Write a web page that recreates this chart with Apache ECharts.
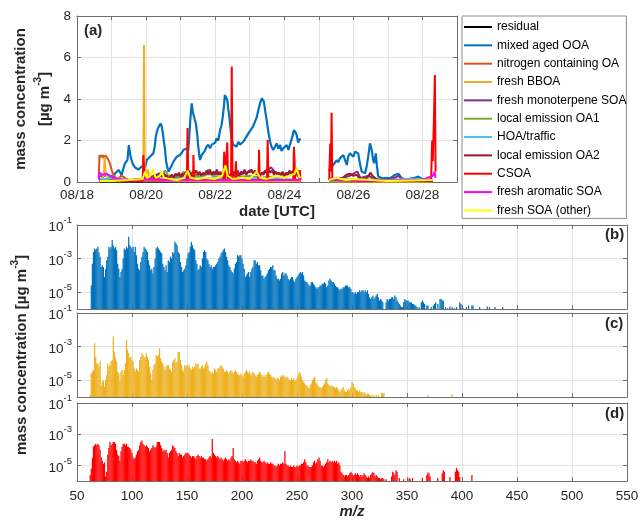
<!DOCTYPE html>
<html><head><meta charset="utf-8">
<script src="https://cdn.jsdelivr.net/npm/echarts@6/dist/echarts.min.js"></script>
<style>html,body{margin:0;padding:0;background:#fff}#c{width:642px;height:520px}</style>
</head><body><div id="c"></div>
<script>
// ---------- Panel (a): time series, x = day of August (UTC), y = µg m-3 ----------
const seriesNames = ['residual','mixed aged OOA','nitrogen containing OA','fresh BBOA','fresh monoterpene SOA','local emission OA1','HOA/traffic','local emission OA2','CSOA','fresh aromatic SOA','fresh SOA (other)'];
const seriesColors = ['#000000','#0072BD','#D95319','#EDB120','#7E2F8E','#77AC30','#4DBEEE','#A2142F','#FF0000','#FF00FF','#FFFF00'];

const residual = [[18.65,0.02],[19.5,0.03],[20.5,0.02],[21.5,0.03],[22.5,0.02],[23.5,0.03],[24.47,0.02],[24.6,null],[25.3,0.02],[26.5,0.03],[27.3,0.06],[27.5,0.1],[27.7,0.08],[27.9,0.05],[28.3,0.02]];
const mixedAgedOOA = [[18.67,0.30],[18.75,0.25],[18.85,0.35],[18.95,0.30],[19.05,0.26],[19.12,0.45],[19.20,0.58],[19.25,0.45],[19.29,0.34],[19.35,0.70],[19.39,0.90],[19.46,1.06],[19.50,1.78],[19.55,1.22],[19.60,0.95],[19.63,0.82],[19.68,0.70],[19.73,0.74],[19.78,0.60],[19.82,0.66],[19.87,0.75],[19.92,0.82],[19.97,0.70],[20.02,1.06],[20.06,1.00],[20.11,1.22],[20.16,1.15],[20.21,1.38],[20.25,1.70],[20.28,2.18],[20.31,2.40],[20.34,2.58],[20.38,2.50],[20.42,2.82],[20.45,2.70],[20.48,2.42],[20.52,1.90],[20.55,1.54],[20.58,1.00],[20.61,0.74],[20.65,0.50],[20.69,0.58],[20.74,0.80],[20.79,0.98],[20.84,1.10],[20.89,1.22],[20.94,1.15],[20.98,1.30],[21.03,1.40],[21.08,1.54],[21.12,1.45],[21.17,1.62],[21.22,1.50],[21.25,2.18],[21.28,3.00],[21.32,3.79],[21.35,3.40],[21.37,3.31],[21.41,3.00],[21.44,2.82],[21.48,2.30],[21.51,1.70],[21.54,1.30],[21.56,1.06],[21.61,1.30],[21.66,1.22],[21.70,1.50],[21.75,1.70],[21.80,1.80],[21.85,1.62],[21.90,1.80],[21.95,1.86],[22.00,1.90],[22.04,2.10],[22.09,2.00],[22.14,2.50],[22.18,2.70],[22.22,3.15],[22.25,3.60],[22.28,4.19],[22.31,4.10],[22.35,3.95],[22.38,3.50],[22.41,3.15],[22.45,2.50],[22.48,2.02],[22.52,1.80],[22.57,1.86],[22.62,1.70],[22.67,1.94],[22.72,1.80],[22.77,1.78],[22.82,1.95],[22.86,2.02],[22.91,2.20],[22.96,2.34],[23.01,2.40],[23.06,2.58],[23.10,2.70],[23.15,2.90],[23.20,3.10],[23.25,3.47],[23.30,3.80],[23.35,4.03],[23.38,3.95],[23.41,3.87],[23.45,3.40],[23.49,2.98],[23.54,2.40],[23.59,1.94],[23.63,1.70],[23.68,1.54],[23.73,1.70],[23.78,1.86],[23.83,1.60],[23.88,1.78],[23.92,1.50],[23.97,1.62],[24.02,1.70],[24.07,1.78],[24.12,1.55],[24.16,1.62],[24.22,2.10],[24.28,2.50],[24.32,2.40],[24.36,2.26],[24.40,1.90],[24.43,2.02],[24.47,2.10],[24.60,null],[25.30,0.50],[25.32,0.66],[25.37,0.60],[25.42,0.82],[25.47,0.90],[25.52,1.06],[25.56,0.95],[25.61,1.14],[25.66,1.20],[25.71,1.30],[25.76,1.05],[25.81,0.82],[25.85,1.22],[25.90,1.38],[25.95,1.30],[26.00,1.22],[26.05,1.46],[26.10,1.40],[26.14,1.38],[26.19,0.90],[26.24,0.50],[26.29,0.45],[26.34,0.42],[26.39,0.80],[26.43,1.22],[26.48,1.86],[26.51,1.70],[26.53,1.54],[26.57,1.10],[26.60,0.90],[26.65,1.38],[26.68,0.80],[26.72,0.26],[26.80,0.20],[26.87,0.18],[26.95,0.20],[27.06,0.18],[27.13,0.25],[27.20,0.34],[27.30,0.40],[27.35,0.30],[27.40,0.18],[27.47,0.15],[27.54,0.13],[27.62,0.15],[27.69,0.18],[27.78,0.20],[27.88,0.26],[27.95,0.18],[28.02,0.13],[28.10,0.12],[28.20,0.10],[28.27,0.15]];
const nitrogenOA = [[18.63,0.2],[18.65,1.3],[18.7,1.2],[18.74,1.3],[18.78,1.15],[18.82,1.28],[18.86,1.25],[18.9,1.1],[18.95,0.9],[19.0,0.6],[19.04,0.4],[19.08,0.3],[19.12,0.2],[19.2,0.15],[19.28,0.3],[19.35,0.25],[19.42,0.15],[19.5,0.1],[19.6,0.05],[20.5,0.05],[21.5,0.04],[22.5,0.03],[23.5,0.03],[24.47,0.04],[24.6,null],[25.3,0.03],[26.5,0.03],[28.3,0.03]];
const freshBBOA = [[18.63,0.1],[18.72,0.2],[18.78,0.3],[18.8,1.2],[18.83,0.4],[18.9,0.2],[19.0,0.1],[19.5,0.08],[19.9,0.15],[19.92,0.3],[19.94,6.6],[19.96,0.6],[20.0,0.3],[20.05,0.6],[20.1,0.2],[20.3,0.1],[21.0,0.05],[22.0,0.04],[23.0,0.04],[24.47,0.04],[24.6,null],[25.3,0.03],[28.3,0.03]];
const monoterpeneSOA = [[18.65,0.05],[19.5,0.1],[20.0,0.15],[20.3,0.35],[20.45,0.45],[20.6,0.3],[20.9,0.2],[21.3,0.3],[21.6,0.35],[22.0,0.4],[22.3,0.35],[22.6,0.3],[22.9,0.45],[23.05,0.5],[23.3,0.35],[23.55,0.65],[23.62,0.7],[23.75,0.45],[24.0,0.35],[24.2,0.45],[24.32,0.6],[24.4,0.55],[24.47,0.4],[24.6,null],[25.3,0.1],[25.6,0.15],[25.9,0.3],[26.05,0.45],[26.12,0.5],[26.2,0.2],[26.45,0.3],[26.6,0.15],[26.9,0.1],[27.2,0.2],[27.3,0.3],[27.4,0.15],[27.8,0.1],[28.3,0.1]];
const localOA1 = [[18.65,0.05],[19.9,0.1],[20.45,0.3],[20.55,0.55],[20.65,0.3],[21.0,0.3],[21.08,0.5],[21.15,0.25],[21.7,0.3],[21.8,0.6],[21.9,0.3],[22.4,0.2],[23.0,0.3],[23.3,0.2],[24.0,0.3],[24.25,0.45],[24.47,0.2],[24.6,null],[25.3,0.05],[28.3,0.05]];
const hoaTraffic = [[18.65,0.1],[19.0,0.2],[19.5,0.1],[20.5,0.15],[21.5,0.2],[22.5,0.15],[23.5,0.2],[24.47,0.1],[24.6,null],[25.3,0.1],[26.0,0.15],[27.0,0.1],[27.6,0.15],[28.3,0.1]];
const localOA2 = [[18.65,0.05],[19.0,0.06],[19.3,0.05],[19.6,0.1],[19.9,0.15],[20.1,0.2],[20.2,0.15],[20.3,0.3],[20.35,0.2],[20.4,0.35],[20.45,0.25],[20.5,0.4],[20.55,0.2],[20.6,0.3],[20.65,0.15],[20.7,0.25],[20.75,0.35],[20.8,0.2],[20.85,0.4],[20.9,0.3],[20.95,0.45],[21.0,0.25],[21.05,0.4],[21.1,0.3],[21.15,0.5],[21.2,0.35],[21.25,0.55],[21.3,0.3],[21.35,0.5],[21.4,0.4],[21.45,0.55],[21.5,0.35],[21.55,0.5],[21.6,0.3],[21.65,0.45],[21.7,0.35],[21.75,0.55],[21.8,0.4],[21.85,0.6],[21.9,0.35],[21.95,0.5],[22.0,0.4],[22.05,0.6],[22.1,0.35],[22.15,0.5],[22.2,0.3],[22.25,0.45],[22.3,0.3],[22.35,0.5],[22.4,0.25],[22.45,0.4],[22.5,0.3],[22.55,0.5],[22.6,0.35],[22.65,0.55],[22.7,0.3],[22.75,0.5],[22.8,0.4],[22.85,0.6],[22.9,0.35],[22.95,0.5],[23.0,0.45],[23.05,0.6],[23.1,0.4],[23.15,0.55],[23.2,0.35],[23.25,0.5],[23.3,0.3],[23.35,0.45],[23.4,0.35],[23.45,0.55],[23.5,0.4],[23.55,0.6],[23.6,0.45],[23.65,0.55],[23.7,0.35],[23.75,0.5],[23.8,0.3],[23.85,0.45],[23.9,0.35],[23.95,0.5],[24.0,0.3],[24.05,0.45],[24.1,0.35],[24.15,0.55],[24.2,0.4],[24.25,0.5],[24.3,0.35],[24.35,0.45],[24.4,0.3],[24.47,0.35],[24.6,null],[25.3,0.1],[25.5,0.15],[25.7,0.2],[25.8,0.35],[25.9,0.4],[26.0,0.3],[26.1,0.35],[26.2,0.1],[26.4,0.2],[26.5,0.45],[26.55,0.3],[26.7,0.1],[27.0,0.05],[27.5,0.05],[28.3,0.05]];
const csoa = [[18.65,0.05],[19.9,0.05],[19.92,1.3],[19.96,0.2],[20.5,0.1],[21.18,0.1],[21.2,2.6],[21.22,0.2],[21.36,0.1],[21.37,1.3],[21.39,0.1],[22.24,0.1],[22.26,1.46],[22.28,0.1],[22.33,0.1],[22.35,1.9],[22.37,0.2],[22.46,0.1],[22.48,5.56],[22.5,0.2],[22.58,0.1],[22.6,1.0],[22.62,0.1],[23.25,0.1],[23.27,1.54],[23.29,0.1],[23.5,0.1],[23.52,2.02],[23.54,0.1],[24.26,0.1],[24.28,1.7],[24.3,0.9],[24.32,0.1],[24.44,0.1],[24.45,0.58],[24.47,0.1],[24.6,null],[25.3,0.1],[25.33,1.86],[25.35,0.5],[25.37,3.34],[25.39,0.2],[25.5,0.1],[26.5,0.05],[28.25,0.1],[28.28,2.0],[28.3,1.0],[28.33,2.9],[28.36,5.16],[28.38,0.5]];
const aromaticSOA = [[18.63,0.1],[18.65,0.45],[18.75,0.35],[18.85,0.4],[18.95,0.3],[19.05,0.2],[19.2,0.15],[19.4,0.1],[19.7,0.1],[20.0,0.15],[20.5,0.08],[21.0,0.1],[21.5,0.08],[22.0,0.1],[22.5,0.08],[23.0,0.1],[23.5,0.08],[24.0,0.1],[24.47,0.1],[24.6,null],[25.3,0.2],[25.5,0.1],[26.0,0.1],[27.0,0.05],[28.0,0.1],[28.3,0.3],[28.35,0.5],[28.38,0.2]];
const otherSOA = [[18.65,0.05],[19.0,0.05],[19.5,0.1],[19.9,0.15],[19.97,0.5],[20.02,0.2],[20.1,0.25],[20.2,0.6],[20.28,0.2],[20.4,0.3],[20.45,0.5],[20.52,0.2],[20.7,0.15],[20.9,0.1],[21.1,0.2],[21.2,0.55],[21.28,0.2],[21.5,0.15],[21.7,0.2],[22.0,0.15],[22.2,0.3],[22.3,0.8],[22.36,0.3],[22.5,0.15],[22.8,0.2],[23.0,0.15],[23.2,0.5],[23.3,0.2],[23.5,0.15],[23.8,0.3],[24.0,0.2],[24.3,0.4],[24.36,0.7],[24.42,0.3],[24.47,0.2],[24.6,null],[25.3,0.1],[25.5,0.2],[25.8,0.1],[26.0,0.15],[26.5,0.1],[27.0,0.05],[28.3,0.1]];
const timeSeries = [residual, mixedAgedOOA, nitrogenOA, freshBBOA, monoterpeneSOA, localOA1, hoaTraffic, localOA2, csoa, aromaticSOA, otherSOA];

// ---------- Panels (b)-(d): mass spectra, first m/z = 62, one value per integer m/z ----------
const mzStart = 62;
const spectrumOOA = [
null,2.5e-5,5e-4,2.5e-3,4e-3,3.2e-3,4e-3,5e-3,2.5e-3,1.3e-3,
3.2e-4,4e-4,3.2e-4,8e-5,2.5e-4,8e-4,1.3e-3,5e-3,4e-3,5e-3,
1.3e-2,6.3e-3,4e-3,5e-3,3.2e-3,5e-4,2.5e-4,8e-5,1.6e-4,2.5e-4,
1e-3,4e-3,3.2e-3,5e-3,4e-3,2e-2,6.3e-3,5e-3,4e-3,5e-3,
2.5e-3,5e-3,1.6e-3,5e-4,2.5e-4,2e-4,6.3e-4,1.3e-3,2.5e-3,5e-3,
4e-3,3.2e-3,2.5e-3,8e-4,4e-4,2e-4,2.5e-4,1.3e-4,3.2e-4,1e-3,
4e-3,5e-3,4e-3,3.2e-3,2.5e-3,2e-3,5e-4,3.2e-4,2e-4,4e-4,
1.6e-4,8e-4,6.3e-4,1.3e-3,1e-3,2.5e-3,2e-3,1e-2,8e-3,6.3e-3,
2.5e-3,2e-3,6.3e-4,3.2e-4,1.6e-4,2e-4,2.5e-4,4e-4,1e-3,2e-3,
2.5e-3,5e-3,1e-2,6.3e-3,4e-3,3.2e-3,8e-4,5e-4,2e-4,2.5e-4,
4e-4,3.2e-4,1e-3,2.5e-3,3.2e-3,2.5e-3,1e-3,8e-4,5e-4,3.2e-4,
4e-4,2.5e-4,3.2e-4,3.2e-4,4e-4,5e-4,6.3e-4,1e-3,1.3e-3,2e-3,
2.5e-3,3.2e-3,4e-3,2.5e-3,1.3e-3,8e-4,4e-4,3.2e-4,2e-4,1.6e-4,
1.3e-4,2.5e-4,5e-4,6.3e-4,1.6e-3,1.3e-3,1.6e-3,1.6e-3,1e-3,5e-4,
2.5e-4,8e-5,1e-4,1.3e-4,1.6e-4,8e-5,1.6e-4,2.5e-4,3.2e-4,8e-4,
8e-4,5e-4,6.3e-4,4e-4,4e-4,2e-4,1e-4,1e-4,6.3e-5,8e-5,
1e-4,1.3e-4,2e-4,2.5e-4,3.2e-4,3.2e-4,4e-4,2e-4,2e-4,1e-4,
6.3e-5,6.3e-5,5e-5,6.3e-5,1.3e-4,1.6e-4,1e-4,1.3e-4,1.3e-4,1e-4,
6.3e-5,5e-5,6.3e-5,8e-5,8e-5,5e-5,4e-5,6.3e-5,8e-5,1e-4,
1.3e-4,1.6e-4,1.3e-4,1.6e-4,1e-4,5e-5,4e-5,4e-5,3.2e-5,2.5e-5,
2.5e-5,4e-5,4e-5,3.2e-5,2.5e-5,2e-5,1.6e-5,2e-5,2e-5,2.5e-5,
2.5e-5,3.2e-5,3.2e-5,4e-5,3.2e-5,2e-5,2.5e-5,5e-5,6.3e-5,5e-5,
4e-5,4e-5,3.2e-5,2.5e-5,2e-5,2e-5,1.6e-5,1.3e-5,1.6e-5,1.6e-5,
2e-5,2e-5,2.5e-5,2.5e-5,2.5e-5,2e-5,2e-5,1.6e-5,1e-5,1e-5,
8e-6,1e-5,8e-6,1e-5,1e-5,1.3e-5,1e-5,1.3e-5,1.3e-5,1e-5,
1.3e-5,1e-5,1.3e-5,8e-6,5e-6,4e-6,5e-6,6.3e-6,4e-6,5e-6,
6.3e-6,8e-6,5e-6,3.2e-6,4e-6,3.2e-6,2.5e-6,null,null,2.5e-6,
4e-6,3.2e-6,4e-6,4e-6,5e-6,5e-6,4e-6,6.3e-6,5e-6,3.2e-6,
2.5e-6,2e-6,1.6e-6,1.3e-6,1.3e-6,2.5e-6,4e-6,3.2e-6,3.2e-6,3.2e-6,
2.5e-6,2.5e-6,2.5e-6,2e-6,2e-6,1.6e-6,1.6e-6,1.3e-6,null,1.3e-6,
null,2.5e-6,3.2e-6,2.5e-6,2e-6,null,1.6e-6,1.6e-6,null,null,
1.3e-6,null,1.6e-6,2e-6,2.5e-6,null,2e-6,null,4e-6,4e-6,
3.2e-6,3.2e-6,null,1.3e-6,null,1.1e-6,null,1.4e-6,null,1.3e-6,
null,1.1e-6,null,1.3e-6,null,null,2.5e-6,2e-6,null,1.1e-6,
null,null,1.3e-6,null,1.6e-6,null,null,1.6e-6,1.6e-6,null,
null,null,null,null,1.3e-6,null,null,null,null,null,
null,1.4e-6,null,1.3e-6,null,null,null,null,1.3e-6,null,
null,null,null,null,null,1.3e-6];
const spectrumBBOA = [
1.3e-6,2.5e-5,3.2e-5,4e-5,1.6e-3,2.5e-4,1e-4,1e-4,6.3e-5,1.3e-4,
5e-6,8e-6,1e-5,4e-6,1e-5,2e-5,1e-4,6.3e-5,8e-5,1.3e-4,
1.6e-4,4e-3,5e-4,2e-4,1.3e-4,3.2e-5,2.5e-5,8e-6,3.2e-5,4e-5,
2e-5,4e-5,1e-4,2.5e-3,6.3e-4,4e-4,2e-4,2.5e-4,1.6e-4,1.3e-4,
5e-5,3.2e-5,5e-5,4e-5,3.2e-5,1.6e-4,2.5e-4,4e-4,3.2e-4,2e-4,
2.5e-4,4e-4,2.5e-4,1.6e-4,6.3e-5,2.5e-5,1e-5,4e-5,8e-5,1e-4,
3.2e-4,2.5e-4,3.2e-4,8e-4,2e-4,1.3e-4,1e-4,6.3e-5,4e-5,6.3e-5,
8e-5,8e-5,5e-5,4e-5,3.2e-5,1.3e-4,1.6e-4,2e-4,1e-4,1.3e-4,
5e-4,5e-4,1.6e-4,8e-5,4e-5,3.2e-5,8e-5,6.3e-5,8e-5,6.3e-5,
8e-5,5e-5,4e-5,6.3e-5,5e-5,6.3e-5,1e-4,8e-5,1e-4,5e-5,
5e-5,6.3e-5,8e-5,5e-5,6.3e-5,1e-4,1.3e-4,8e-5,4e-5,3.2e-5,
2.5e-5,3.2e-5,2.5e-5,5e-5,4e-5,3.2e-5,5e-5,5e-5,6.3e-5,8e-5,
6.3e-5,5e-5,3.2e-5,3.2e-5,4e-5,3.2e-5,2.5e-5,3.2e-5,4e-5,3.2e-5,
2.5e-5,3.2e-5,4e-5,3.2e-5,2.5e-5,2e-5,2e-5,2.5e-5,2e-5,1.6e-5,
2.5e-5,3.2e-5,4e-5,3.2e-5,2.5e-5,3.2e-5,2e-5,2.5e-5,3.2e-5,2.5e-5,
2e-5,1.6e-5,2e-5,2.5e-5,3.2e-5,2.5e-5,2e-5,1.6e-5,2e-5,1.6e-5,
2e-5,2.5e-5,3.2e-5,2.5e-5,2e-5,1.6e-5,1.3e-5,1.6e-5,1.3e-5,1e-5,
1.3e-5,1.3e-5,1e-5,1.6e-5,2e-5,1.6e-5,2e-5,1.6e-5,1.3e-5,1.6e-5,
1.3e-5,1e-5,1e-5,1.3e-5,1e-5,1.3e-5,1e-5,1e-5,1.3e-5,2e-5,
3.2e-5,2.5e-5,1.6e-5,1e-5,8e-6,6.3e-6,5e-6,5e-6,4e-6,3.2e-6,
5e-6,6.3e-6,1e-5,1.3e-5,1.6e-5,8e-6,6.3e-6,5e-6,4e-6,4e-6,
3.2e-6,4e-6,5e-6,6.3e-6,1e-5,1.3e-5,6.3e-6,5e-6,5e-6,4e-6,
5e-6,4e-6,4e-6,3.2e-6,4e-6,3.2e-6,2.5e-6,2e-6,2.5e-6,3.2e-6,
4e-6,2.5e-6,2e-6,2e-6,2.5e-6,3.2e-6,2.5e-6,4e-6,8e-6,6.3e-6,
4e-6,3.2e-6,2.5e-6,2.5e-6,2e-6,2.5e-6,2e-6,2e-6,1.6e-6,2e-6,
1.6e-6,1.3e-6,1.6e-6,1.6e-6,1.3e-6,1.3e-6,null,1.3e-6,1.1e-6,null,
1.3e-6,null,1.3e-6,null,null,1.8e-6,1.6e-6,1.8e-6,null,null,
null,null,null,null,null,null,null,null,null,null,
null,null,null,null,null,null,null,null,null,null,
null,null,null,null,null,null,null,null,null,null,
null,null,null,null,null,null,null,1.3e-6,null,null,
null,null,null,null,null,null,null,null,null,null,
null,null,null,null,null,null,null,null,null,1.4e-6];
const spectrumCSOA = [
2.5e-6,6.3e-6,3.2e-5,1.6e-4,2e-4,2.5e-4,2e-4,2.5e-4,2e-4,1e-4,
3.2e-5,2e-5,1.3e-5,1.6e-5,2e-6,4e-6,5e-5,1.3e-4,3.2e-4,2e-4,
2.5e-4,3.2e-4,3.2e-4,2.5e-4,1e-4,5e-5,4e-5,2e-5,8e-5,1.6e-4,
2.5e-4,2.5e-4,2e-4,2.5e-4,1.6e-4,1.6e-4,1.3e-4,1e-4,6.3e-5,3.2e-5,
2.5e-5,3.2e-5,5e-5,8e-5,1e-4,2e-4,3.2e-4,4e-4,2.5e-4,2e-4,
1.6e-4,2e-4,1.6e-4,1.3e-4,8e-5,1e-4,1.3e-4,2e-4,1.6e-4,1.3e-4,
1.6e-4,3.2e-4,3.2e-4,3.2e-4,2e-4,1.3e-4,8e-5,1e-4,8e-5,1e-4,
6.3e-5,3.2e-5,6.3e-5,8e-5,1e-4,2e-4,1.6e-4,1.3e-4,8e-5,6.3e-5,
4e-5,6.3e-5,5e-5,5e-5,3.2e-5,4e-5,5e-5,6.3e-5,6.3e-5,6.3e-5,
5e-5,4e-5,3.2e-5,4e-5,4e-5,3.2e-5,2.5e-5,4e-5,5e-5,4e-5,
3.2e-5,4e-5,3.2e-5,3.2e-5,2.5e-5,2.5e-5,2e-5,2.5e-5,3.2e-5,4e-5,
3.2e-5,5e-4,6.3e-5,5e-5,4e-5,3.2e-5,4e-5,3.2e-5,2.5e-5,3.2e-5,
2.5e-5,2e-5,2.5e-5,3.2e-5,2.5e-5,2e-5,2.5e-5,2e-5,3.2e-5,4e-5,
1.3e-4,2.5e-5,2e-5,1.6e-5,2e-5,1.6e-5,1.3e-5,2e-5,2e-5,1.6e-5,
2e-5,2.5e-5,2e-5,1.6e-5,2e-5,2e-5,2.5e-5,2e-5,2e-5,1.6e-5,
1.6e-5,1.3e-5,2e-5,2.5e-5,3.2e-5,2e-5,1.6e-5,1.6e-5,2e-5,1.6e-5,
1.3e-5,1.6e-5,1.3e-5,1.3e-5,1.6e-5,1.3e-5,1.3e-5,1e-5,1e-5,8e-6,
1e-5,1.3e-5,1e-5,1.3e-5,1.3e-5,1.6e-5,1.3e-5,8e-5,1.3e-5,1e-5,
1e-5,8e-6,1e-5,8e-6,8e-6,1e-5,8e-6,8e-6,1e-5,8e-6,
1e-5,1e-5,1.3e-5,1.3e-5,1.6e-5,2.5e-5,1.6e-5,1e-5,1e-5,8e-6,
8e-6,8e-6,1e-5,1.6e-5,2e-5,1.3e-5,1.6e-5,2.5e-5,3.2e-5,2e-5,
1e-5,1e-5,8e-6,1e-5,1.3e-5,1.6e-5,2.5e-5,1.6e-5,2e-5,1.6e-5,
2e-5,1.6e-5,2e-5,1.6e-5,2e-5,1.3e-5,1.6e-5,1e-5,4e-6,3.2e-6,
2.5e-6,2e-6,2.5e-6,2.5e-6,2e-6,2.5e-6,3.2e-6,4e-6,3.2e-6,2.5e-6,
2.5e-6,3.2e-6,2.5e-6,3.2e-6,2.5e-6,2e-6,2.5e-6,2e-6,2.5e-6,3.2e-6,
2.5e-6,2e-6,1.6e-6,2e-6,1.6e-6,2.5e-6,3.2e-6,4e-6,3.2e-6,2e-6,
2.5e-6,2e-6,1.6e-6,1.6e-6,1.3e-6,1.6e-6,1.6e-6,1.3e-6,null,1.3e-6,
null,null,null,null,2e-6,4e-6,3.2e-6,2.5e-6,5e-6,4e-6,
null,1.6e-6,null,null,null,1.3e-6,null,null,null,null,
1.6e-6,1.3e-6,null,1.6e-6,null,null,null,null,null,null,
null,null,1.6e-6,null,null,null,2.5e-6,3.5e-6,3.2e-6,2e-6,
null,null,null,null,null,null,1.6e-6,null,null,null,
3.2e-6,5e-6,4e-6,null,null,null,null,1.8e-6,null,null,
null,null,4e-6,7e-6,5e-6,4e-6,1.8e-6,null,null,null,
null,null,null,null,null,null,null,2.5e-6];
const spectra = [spectrumOOA, spectrumBBOA, spectrumCSOA];
const spectrumColors = ['#0072BD','#EDB120','#FF0000'];
const panelLabels = ['(a)','(b)','(c)','(d)'];
const logLabelValues = [1e-5, 1e-3, 1e-1];
const logTickValues = [1e-5, 1e-3];

// ---------- styling ----------
const FONT = 'Liberation Sans, Arial, Helvetica, sans-serif';
const AX = '#6e6e6e', TXT = '#262626', GRIDC = '#e3e3e3';

function toPairs(arr){ const out=[]; arr.forEach((v,i)=>{ if(v!==null) out.push([mzStart+i, v]); }); return out; }
function logFmt(v){ const e = Math.round(Math.log10(v)); return '{b|10}{s|' + e + '}'; }
const logRich = { b:{fontSize:13.5, color:TXT, fontFamily:FONT, padding:[5,0,0,0]}, s:{fontSize:9.5, color:TXT, fontFamily:FONT, verticalAlign:'top'} };
const axLine = {show:true, onZero:false, lineStyle:{color:AX, width:1}};

const grids = [
  {left:77, top:16, width:380, height:166},
  {left:77, top:225, width:550, height:84},
  {left:77, top:313, width:550, height:84},
  {left:77, top:403, width:550, height:84}
];

const xAxes = [
  {gridIndex:0, type:'value', min:18, max:29, interval:1, position:'bottom', axisLine:axLine,
   axisTick:{inside:true, length:4, lineStyle:{color:AX}}, splitLine:{show:true, lineStyle:{color:GRIDC}},
   axisLabel:{formatter:v => (v % 2 === 0 ? '08/' + v : ''), fontSize:13.5, color:TXT, margin:6, fontFamily:FONT},
   name:'date [UTC]', nameLocation:'middle', nameGap:22,
   nameTextStyle:{fontWeight:'bold', fontSize:15, color:TXT, fontFamily:FONT, padding:[0,0,0,20]}},
  {gridIndex:0, type:'value', min:18, max:29, interval:1, position:'top', axisLine:axLine,
   axisTick:{inside:true, length:4, lineStyle:{color:AX}}, splitLine:{show:false}, axisLabel:{show:false}}
];
const yAxes = [
  {gridIndex:0, type:'value', min:0, max:8, interval:2, position:'left', axisLine:axLine,
   axisTick:{inside:true, length:4, lineStyle:{color:AX}}, splitLine:{show:true, lineStyle:{color:GRIDC}},
   axisLabel:{fontSize:13.5, color:TXT, margin:6, fontFamily:FONT},
   name:'{t|mass concentration}\n{t|[µg m}{s|-3}{t|]}', nameLocation:'middle', nameRotate:90, nameGap:16,
   nameTextStyle:{rich:{t:{fontSize:15, fontWeight:'bold', color:TXT, fontFamily:FONT, lineHeight:24},
                        s:{fontSize:10, fontWeight:'bold', color:TXT, fontFamily:FONT, verticalAlign:'top', lineHeight:12}}}},
  {gridIndex:0, type:'value', min:0, max:8, interval:2, position:'right', axisLine:axLine,
   axisTick:{inside:true, length:4, lineStyle:{color:AX}}, splitLine:{show:false}, axisLabel:{show:false}}
];
for (let p = 1; p <= 3; p++) {
  xAxes.push({gridIndex:p, type:'value', min:50, max:550, interval:50, position:'bottom', axisLine:axLine,
    axisTick:{inside:true, length:4, lineStyle:{color:AX}}, splitLine:{show:true, lineStyle:{color:GRIDC}},
    axisLabel:{show:p === 3, fontSize:13.5, color:TXT, margin:8, fontFamily:FONT},
    name: p === 3 ? 'm/z' : '', nameLocation:'middle', nameGap:16,
    nameTextStyle:{fontWeight:'bold', fontStyle:'italic', fontSize:15, color:TXT, fontFamily:FONT}});
  xAxes.push({gridIndex:p, type:'value', min:50, max:550, interval:50, position:'top', axisLine:axLine,
    axisTick:{inside:true, length:4, lineStyle:{color:AX}}, splitLine:{show:false}, axisLabel:{show:false}});
  const left = {gridIndex:p, type:'log', logBase:10, min:1e-6, max:1e-1, startValue:1e-6, position:'left', axisLine:axLine,
    axisTick:{inside:true, length:4, customValues:logTickValues, lineStyle:{color:AX}},
    splitLine:{show:true, lineStyle:{color:GRIDC}},
    axisLabel:{customValues:logLabelValues, formatter:logFmt, rich:logRich, margin:5}};
  if (p === 2) {
    left.name = '{t|mass concentration [µg m}{s|-3}{t|]}';
    left.nameLocation = 'middle'; left.nameRotate = 90; left.nameGap = 43;
    left.nameTextStyle = {rich:{t:{fontSize:15, fontWeight:'bold', color:TXT, fontFamily:FONT, lineHeight:24},
                                s:{fontSize:10, fontWeight:'bold', color:TXT, fontFamily:FONT, verticalAlign:'top', lineHeight:12}}};
  }
  yAxes.push(left);
  yAxes.push({gridIndex:p, type:'log', logBase:10, min:1e-6, max:1e-1, position:'right', axisLine:axLine,
    axisTick:{inside:true, length:4, customValues:logTickValues, lineStyle:{color:AX}}, splitLine:{show:false}, axisLabel:{show:false}});
}

const series = [];
timeSeries.forEach((d, i) => {
  series.push({type:'line', name:seriesNames[i], data:d, xAxisIndex:0, yAxisIndex:0, symbol:'none', showSymbol:false,
    connectNulls:false, lineStyle:{color:seriesColors[i], width: i === 1 ? 2.2 : 2}, itemStyle:{color:seriesColors[i]},
    animation:false, silent:true});
});
spectra.forEach((arr, k) => {
  series.push({type:'bar', name:'spectrum' + k, data:toPairs(arr), xAxisIndex:2 + 2*k, yAxisIndex:2 + 2*k,
    barWidth:1.25, itemStyle:{color:spectrumColors[k]}, animation:false, silent:true});
});

const graphics = [
  {type:'text', left:84, top:23, style:{text:panelLabels[0], font:'bold 15px ' + FONT, fill:TXT}},
  {type:'text', left:605, top:227, style:{text:panelLabels[1], font:'bold 15px ' + FONT, fill:TXT}},
  {type:'text', left:605, top:316, style:{text:panelLabels[2], font:'bold 15px ' + FONT, fill:TXT}},
  {type:'text', left:605, top:406, style:{text:panelLabels[3], font:'bold 15px ' + FONT, fill:TXT}}
];

const chart = echarts.init(document.getElementById('c'), null, {renderer:'canvas'});
chart.setOption({
  animation:false,
  backgroundColor:'#ffffff',
  textStyle:{fontFamily:FONT},
  grid:grids, xAxis:xAxes, yAxis:yAxes, series:series, graphic:graphics,
  legend:{orient:'vertical', left:462, top:16, icon:'rect', itemWidth:28, itemHeight:2, itemGap:4.34,
    padding:[4,0,1,2], borderColor:'#8c8c8c', borderWidth:1, backgroundColor:'#ffffff',
    selectedMode:false, data:seriesNames, textStyle:{fontSize:12, lineHeight:14, color:'#000', fontFamily:FONT}}
});
</script></body></html>
